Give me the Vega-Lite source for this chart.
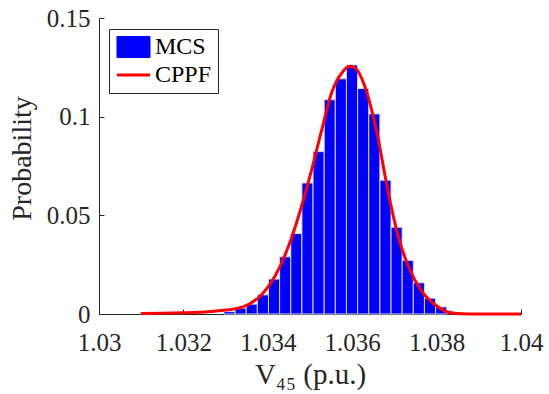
{
  "$schema": "https://vega.github.io/schema/vega-lite/v6.json",
  "width": 422,
  "height": 296,
  "autosize": "none",
  "padding": {"left": 99, "top": 18, "right": 28, "bottom": 80},
  "background": "white",
  "config": {
    "view": {"stroke": null},
    "font": "Liberation Serif",
    "axis": {
      "grid": false,
      "domainColor": "#262626",
      "domainWidth": 1,
      "tickColor": "#262626",
      "tickSize": -5,
      "labelFont": "Liberation Serif",
      "labelFontSize": 25,
      "labelColor": "#262626",
      "titleFont": "Liberation Serif",
      "titleFontSize": 28,
      "titleFontWeight": "normal",
      "titleColor": "#262626"
    },
    "legend": {
      "orient": "none",
      "legendX": 10,
      "legendY": 11,
      "padding": 6,
      "strokeColor": "#262626",
      "fillColor": "white",
      "labelFont": "Liberation Serif",
      "labelFontSize": 24,
      "labelColor": "black",
      "symbolSize": 400,
      "labelOffset": 16,
      "rowPadding": 3
    }
  },
  "datasets": {
    "bars": [
      {"lo": 1.032960, "hi": 1.033224, "p": 0.0012},
      {"lo": 1.033224, "hi": 1.033488, "p": 0.0030},
      {"lo": 1.033488, "hi": 1.033752, "p": 0.0050},
      {"lo": 1.033752, "hi": 1.034016, "p": 0.0097},
      {"lo": 1.034016, "hi": 1.034280, "p": 0.0177},
      {"lo": 1.034280, "hi": 1.034544, "p": 0.0290},
      {"lo": 1.034544, "hi": 1.034808, "p": 0.0408},
      {"lo": 1.034808, "hi": 1.035072, "p": 0.0664},
      {"lo": 1.035072, "hi": 1.035336, "p": 0.0823},
      {"lo": 1.035336, "hi": 1.035600, "p": 0.1086},
      {"lo": 1.035600, "hi": 1.035864, "p": 0.1192},
      {"lo": 1.035864, "hi": 1.036128, "p": 0.1262},
      {"lo": 1.036128, "hi": 1.036392, "p": 0.1143},
      {"lo": 1.036392, "hi": 1.036656, "p": 0.1014},
      {"lo": 1.036656, "hi": 1.036920, "p": 0.0678},
      {"lo": 1.036920, "hi": 1.037184, "p": 0.0440},
      {"lo": 1.037184, "hi": 1.037448, "p": 0.0272},
      {"lo": 1.037448, "hi": 1.037712, "p": 0.0158},
      {"lo": 1.037712, "hi": 1.037976, "p": 0.0080},
      {"lo": 1.037976, "hi": 1.038240, "p": 0.0036}
    ],
    "curve": [
      {"x": 1.03099, "p": 0.0003},
      {"x": 1.0315, "p": 0.0004},
      {"x": 1.0320, "p": 0.0006},
      {"x": 1.0325, "p": 0.0010},
      {"x": 1.0329, "p": 0.0018},
      {"x": 1.03322, "p": 0.0026},
      {"x": 1.03354, "p": 0.0048},
      {"x": 1.03386, "p": 0.0099},
      {"x": 1.03417, "p": 0.0191},
      {"x": 1.03449, "p": 0.0343},
      {"x": 1.0348, "p": 0.0546},
      {"x": 1.03504, "p": 0.0732},
      {"x": 1.03528, "p": 0.0934},
      {"x": 1.03551, "p": 0.1120},
      {"x": 1.03575, "p": 0.1221},
      {"x": 1.03595, "p": 0.1255},
      {"x": 1.03607, "p": 0.1247},
      {"x": 1.0363, "p": 0.1153},
      {"x": 1.03646, "p": 0.1035},
      {"x": 1.03662, "p": 0.0884},
      {"x": 1.03678, "p": 0.0698},
      {"x": 1.03694, "p": 0.0529},
      {"x": 1.03709, "p": 0.0394},
      {"x": 1.03733, "p": 0.0242},
      {"x": 1.03765, "p": 0.0115},
      {"x": 1.03796, "p": 0.0048},
      {"x": 1.03828, "p": 0.0009},
      {"x": 1.03859, "p": 0.0001},
      {"x": 1.0390, "p": 0.0},
      {"x": 1.0395, "p": 0.0},
      {"x": 1.0400, "p": 0.0}
    ]
  },
  "layer": [
    {
      "data": {"name": "bars"},
      "mark": {"type": "rect", "stroke": "#d8d8ff", "strokeWidth": 1},
      "encoding": {
        "x": {
          "field": "lo", "type": "quantitative",
          "scale": {"domain": [1.03, 1.04], "nice": false, "zero": false},
          "axis": {
            "values": [1.03, 1.032, 1.034, 1.036, 1.038, 1.04],
            "format": "~g",
            "labelFont": "Liberation Serif",
            "labelFlush": false,
            "labelPadding": 21,
            "title": "V₄₅ (p.u.)",
            "titleFontSize": 29,
            "titleBaseline": "alphabetic",
            "titleY": 69
          }
        },
        "x2": {"field": "hi"},
        "y": {
          "field": "p", "type": "quantitative",
          "scale": {"domain": [0, 0.15], "nice": false},
          "axis": {
            "values": [0, 0.05, 0.1, 0.15],
            "format": "~g",
            "labelFont": "Liberation Serif",
            "labelPadding": 14,
            "title": "Probability",
            "titleBaseline": "alphabetic",
            "titleX": -69,
            "titleY": 140
          }
        },
        "y2": {"datum": 0},
        "color": {
          "datum": "MCS",
          "scale": {"domain": ["MCS", "CPPF"], "range": ["#0000ff", "#ff0000"]},
          "legend": {
            "title": null,
            "encode": {
              "symbols": {
                "update": {
                  "shape": {"signal": "datum.value === 'MCS' ? 'M-1,-1.05H2.3V1.05H-1Z' : 'M-1,0H2.3'"},
                  "fill": {"signal": "datum.value === 'MCS' ? '#0000ff' : 'transparent'"},
                  "stroke": {"signal": "datum.value === 'MCS' ? '#b8b8ff' : '#ff0000'"},
                  "strokeWidth": {"signal": "datum.value === 'MCS' ? 1 : 3"}
                }
              }
            }
          }
        }
      }
    },
    {
      "data": {"name": "curve"},
      "mark": {"type": "line", "strokeWidth": 3, "interpolate": "monotone"},
      "encoding": {
        "x": {"field": "x", "type": "quantitative"},
        "y": {"field": "p", "type": "quantitative"},
        "color": {
          "datum": "CPPF",
          "legend": {
            "title": null,
            "encode": {
              "symbols": {
                "update": {
                  "shape": {"signal": "datum.value === 'MCS' ? 'M-1,-1.05H2.3V1.05H-1Z' : 'M-1,0H2.3'"},
                  "fill": {"signal": "datum.value === 'MCS' ? '#0000ff' : 'transparent'"},
                  "stroke": {"signal": "datum.value === 'MCS' ? '#b8b8ff' : '#ff0000'"},
                  "strokeWidth": {"signal": "datum.value === 'MCS' ? 1 : 3"}
                }
              }
            }
          }
        }
      }
    }
  ]
}
